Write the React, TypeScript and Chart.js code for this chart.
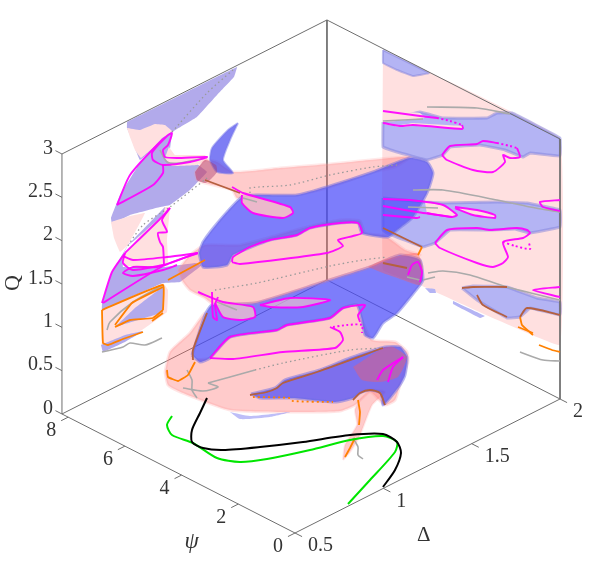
import React, { useEffect, useRef } from "react";
import { Chart, registerables } from "chart.js";
Chart.register(...registerables);

const psiTicks = [0, 2, 4, 6, 8];
const deltaTicks = [0.5, 1, 1.5, 2];
const qTicks = [0, 0.5, 1, 1.5, 2, 2.5, 3];
const qTickLabels = ["0", "0.5", "1", "1.5", "2", "2.5", "3"];
const deltaTickLabels = ["0.5", "1", "1.5", "2"];
const psiEnd = 8.22;

// ---- left wall (view plane coordinates) ----
const lwLavTop = [[127,122],[237,67],[234,77],[217,95],[197,117],[172,132],[163,140],[140,160],[130,135],[127,128]];
const lwPinkTop = [[127,128],[140,130],[155,124],[165,125],[172,131],[162,140],[141,158],[135,150],[130,137]];
const lwLavMid = [[162,138],[172,132],[170,150],[172,164],[197,164],[207,172],[190,190],[170,205],[160,207],[130,215],[112,224],[111,218],[120,195],[140,163]];
const lwPinkStrip = [[169,147],[175,155],[205,155],[208,160],[197,165],[172,166],[165,158]];
const lwPinkLowL = [[111,222],[130,216],[145,213],[128,245],[120,252],[114,238]];
const lwPinkLowR = [[165,207],[170,207],[167,240],[168,266],[125,266],[123,255],[128,251],[138,238]];
const lwLavSliver = [[128,245],[165,207],[163,215],[135,240]];
const lwLavLow = [[102,303],[112,272],[128,245],[123,255],[123,267],[165,267],[195,263],[202,265],[180,282],[163,283],[102,310]];
const lwPinkStub = [[102,310],[163,283],[168,290],[167,312],[142,330],[102,345]];
const lwLavStub = [[115,327],[135,308],[163,287],[163,312],[138,320]];
const lwLavFoot = [[101,345],[125,335],[143,331],[125,342],[103,352]];

// ---- right wall ----
const rwPink = [[383,50],[560,138],[560,345],[420,285],[383,270]];
const rwLavTop = [[383,50],[429,73],[413,76],[397,70],[383,63]];
const rwLavA = [[383,122],[420,112],[443,118],[487,118],[497,113],[512,113],[560,138],[560,156],[530,153],[523,157],[505,150],[480,145],[450,147],[443,155],[427,160],[397,152],[383,147]];
const rwPinkWedge = [[383,111],[420,113],[425,118],[383,122]];
const rwLensA = [[383,123],[400,125],[413,123],[462,126],[463,129],[413,126],[400,127],[383,124]];
const rwLavB = [[383,198],[423,202],[443,203],[497,202],[527,203],[560,210],[560,227],[530,233],[515,229],[490,230],[450,230],[435,243],[423,247],[387,233],[383,230]];
const rwLensB = [[425,202],[443,205],[457,215],[452,217],[427,213]];
const rwLensC = [[455,207],[477,210],[495,215],[495,218],[473,215],[455,208]];
const rwLavC = [[462,288],[473,286],[507,287],[537,298],[560,302],[560,315],[530,308],[520,317],[507,318],[490,308],[477,300]];
const rwLavSliverA = [[425,288],[435,289],[436,293],[430,293]];
const rwLavSliverB = [[453,301],[485,316],[480,318],[453,304]];

// ---- spiral surface ----
const pinkStalk = [[343,460],[350,452],[360,435],[372,405],[385,392],[372,390],[360,400],[355,410],[357,425],[345,445]];
const pinkLowBlob = [[165,372],[170,352],[190,333],[205,313],[192,358],[210,358],[230,337],[277,330],[287,325],[330,318],[343,308],[357,305],[362,320],[372,340],[395,342],[407,352],[408,362],[400,385],[395,400],[385,405],[370,392],[355,405],[340,411],[290,412],[230,410],[183,393],[168,385]];
const blueLow = [[251,394],[275,388],[285,380],[320,370],[350,358],[385,347],[400,347],[407,357],[405,375],[400,385],[390,398],[383,405],[381,393],[370,390],[360,393],[353,398],[335,402],[293,398],[260,398]];
const pinkOverLow = [[353,367],[362,380],[380,382],[398,377],[407,357],[393,347],[383,348]];
const blueLowStray = [[230,412],[250,416],[290,412],[270,417],[240,419]];
const blueMid = [[192,355],[205,315],[212,305],[255,303],[320,283],[370,267],[400,255],[420,260],[423,280],[420,285],[397,313],[383,323],[373,338],[365,335],[362,320],[357,305],[343,308],[330,318],[287,325],[277,330],[230,337],[210,358],[200,362]];
const pinkMid = [[178,270],[190,255],[205,245],[240,245],[303,228],[340,220],[360,221],[365,233],[385,236],[405,250],[420,255],[400,255],[370,267],[320,283],[255,303],[212,303],[205,298],[190,290],[182,280]];
const pinkOverMid = [[368,267],[383,260],[417,253],[423,267],[420,285],[403,280],[383,273]];
const pinkLoopMid = [[198,292],[223,302],[253,307],[255,317],[240,320],[223,317],[215,303]];
const pinkLensMid = [[260,305],[290,298],[328,300],[303,307],[270,307]];
const blueTop = [[199,253],[203,242],[220,220],[242,197],[257,195],[297,195],[330,186],[373,172],[410,158],[427,162],[433,173],[427,193],[413,217],[397,230],[388,237],[362,233],[358,223],[340,223],[310,228],[297,235],[270,240],[233,255],[227,265],[203,267]];
const pinkHoleTop = [[243,193],[290,207],[293,213],[283,218],[253,213],[242,203]];
const pinkTopBand = [[195,172],[205,160],[217,162],[233,172],[280,168],[330,164],[380,159],[410,157],[395,167],[373,172],[330,187],[297,195],[257,195],[237,198],[232,190],[205,183],[197,180]];
const purpleBlob = [[195,172],[205,160],[216,165],[217,172],[210,180],[205,183],[197,180]];
const blueCrescent = [[238,123],[228,130],[212,148],[210,160],[217,172],[233,173],[223,160],[230,140]];

// ---- curves ----
const blackCurve = [[207,398],[200,413],[192,430],[192,442],[203,448],[223,450],[260,447],[303,442],[350,435],[383,434],[397,442],[401,453],[395,470],[383,487]];
const greenCurve = [[172,416],[167,425],[172,435],[193,443],[217,458],[240,462],[267,459],[310,450],[350,440],[383,436],[397,442],[395,452],[370,480],[348,504]];

const magentaLines = [
  [[117,205],[130,175],[162,140],[172,133],[168,145],[163,150],[165,157],[177,158],[207,157],[190,162],[163,165],[153,160],[152,153],[160,143],[168,135]],
  [[117,205],[153,185],[163,173],[163,165]],
  [[170,208],[162,220],[167,232],[158,233],[160,242],[163,247],[164,265]],
  [[102,303],[112,272],[125,253]],
  [[125,253],[162,217],[170,208]],
  [[103,303],[163,266],[198,253]],
  [[198,253],[167,257],[133,260],[123,256]],
  [[125,253],[123,263],[133,270],[163,265]],
  [[197,253],[157,267],[133,267],[123,273],[133,276],[163,270],[177,265]],
  [[232,187],[243,193],[290,207],[293,213],[283,218],[253,213],[242,203],[242,195]],
  [[232,262],[233,257],[250,247],[270,240],[297,235],[310,228],[340,223],[358,223],[362,233],[353,236],[338,240],[343,246],[327,253],[240,264],[232,262]],
  [[198,292],[223,302],[253,307],[255,317],[240,320],[223,317],[215,303]],
  [[260,305],[290,298],[330,300],[303,307],[270,307],[260,305]],
  [[212,292],[213,317],[217,320],[215,305],[218,297]],
  [[210,358],[230,337],[277,330],[287,325],[330,318],[343,308],[365,305],[358,315],[360,322]],
  [[210,358],[233,359],[283,352],[335,348],[343,340],[340,332],[330,327]],
  [[377,380],[383,370],[403,357]],
  [[388,382],[393,367],[403,357]],
  [[408,275],[412,265],[418,262],[422,272],[420,282]],
  [[383,111],[420,116],[437,118]],
  [[383,123],[400,126],[413,125],[462,129],[463,128],[462,125]],
  [[442,155],[450,146],[477,144],[483,141],[497,143]],
  [[517,148],[520,157],[510,158],[503,155],[505,162],[493,172],[473,170],[447,160],[442,155]],
  [[383,199],[410,200],[443,205],[457,215],[452,217],[427,213]],
  [[383,206],[417,212],[452,217]],
  [[383,215],[417,218],[420,217]],
  [[455,207],[477,210],[495,215],[495,218],[473,215],[455,208]],
  [[560,200],[540,202],[543,207],[560,211]],
  [[435,243],[447,230],[477,228],[490,230],[517,228],[527,230],[530,233],[523,238],[503,242],[508,257],[503,263],[493,267],[477,263],[440,248],[435,243]],
  [[560,287],[533,290],[560,297]],
];
const magentaDots = [
  [[437,118],[450,121],[462,125]],
  [[497,143],[510,146],[517,148]],
  [[503,242],[515,246],[530,249],[529,243]],
  [[333,327],[347,325],[362,325],[362,333]],
];
const grayLines = [
  [[160,150],[167,162],[180,163],[205,158]],
  [[133,267],[157,267]],
  [[107,330],[110,322],[133,302],[163,285]],
  [[102,352],[123,347],[130,343],[145,345],[162,338]],
  [[383,121],[423,119]],
  [[427,107],[477,108],[510,114]],
  [[413,190],[443,190],[497,200],[530,207],[560,212]],
  [[408,207],[438,208]],
  [[428,273],[443,271],[470,275],[507,287],[560,300]],
  [[423,280],[435,277]],
  [[520,352],[543,360],[560,361]],
  [[353,438],[358,447],[358,455],[363,459]],
  [[183,388],[203,391],[218,387],[208,383]],
  [[187,370],[192,380],[192,390],[197,398]],
  [[208,383],[230,377],[255,370]],
  [[217,302],[237,310]],
  [[243,198],[257,202]],
  [[407,277],[420,280]],
];
const grayDots = [
  [[233,70],[207,93],[172,132]],
  [[207,178],[170,207],[143,225],[127,247]],
  [[250,193],[250,188],[290,185],[330,175],[373,167],[397,165]],
  [[215,290],[257,283],[330,266],[363,260],[387,257]],
  [[255,370],[283,363],[350,350],[383,348]],
];
const orangeLines = [
  [[195,362],[188,375],[178,381],[168,377],[167,370]],
  [[102,310],[163,285],[163,310]],
  [[102,310],[103,343],[108,345],[123,339],[143,332]],
  [[115,325],[132,303],[163,287]],
  [[115,327],[130,320],[153,318],[163,310]],
  [[152,321],[163,313]],
  [[168,280],[205,260]],
  [[345,457],[350,448],[355,438]],
  [[358,400],[360,412],[359,425]],
  [[520,317],[522,325],[533,335]],
  [[518,327],[533,333]],
  [[539,345],[552,350],[560,352]],
  [[418,255],[422,247]],
];
const brownLines = [
  [[193,360],[193,350],[207,313]],
  [[353,400],[360,393],[370,390],[380,393],[385,405]],
  [[250,395],[267,392],[277,388],[283,383],[317,372],[383,348]],
  [[383,228],[422,247]],
  [[462,288],[473,287],[507,287]],
  [[477,295],[483,305],[507,317]],
  [[520,317],[527,308],[560,315]],
  [[205,180],[240,193]],
  [[383,263],[407,268]],
];
const orangeDots = [
  [[253,397],[290,398],[293,401],[333,402]],
];

const PINK = "rgba(255,110,110,0.36)";
const BLUE = "rgba(75,75,250,0.72)";
const WPINK = "#ffe0e0";
const WLAV = "#b4b4f4";
const LLAV = "#b2aaeb";
const NONE = "rgba(0,0,0,0)";
const HALO = "rgba(130,130,220,.5)";

const fillLayers: [number[][], string, string, number][] = [
  [rwPink, WPINK, NONE, 0],
  [rwLavTop, WLAV, HALO, 2],
  [rwLavA, WLAV, HALO, 3],
  [rwPinkWedge, WPINK, NONE, 0],
  [rwLensA, WPINK, NONE, 0],
  [rwLavB, WLAV, HALO, 3],
  [rwLensB, WPINK, NONE, 0],
  [rwLensC, WPINK, NONE, 0],
  [rwLavC, WLAV, HALO, 3],
  [rwLavSliverA, WLAV, NONE, 0],
  [rwLavSliverB, WLAV, NONE, 0],
  [lwLavTop, LLAV, NONE, 0],
  [lwPinkTop, WPINK, NONE, 0],
  [lwLavMid, LLAV, NONE, 0],
  [lwPinkStrip, WPINK, NONE, 0],
  [lwPinkLowL, WPINK, NONE, 0],
  [lwPinkLowR, WPINK, NONE, 0],
  [lwLavSliver, LLAV, NONE, 0],
  [lwLavLow, LLAV, NONE, 0],
  [lwPinkStub, WPINK, NONE, 0],
  [lwLavStub, LLAV, NONE, 0],
  [lwLavFoot, LLAV, NONE, 0],
];
const surfaceLayers: [number[][], string, string, number][] = [
  [pinkStalk, PINK, "rgba(255,150,150,.2)", 2],
  [pinkLowBlob, PINK, "rgba(255,150,150,.25)", 3],
  [blueLowStray, "rgba(110,110,240,.45)", NONE, 0],
  [blueLow, BLUE, "rgba(110,110,230,.5)", 3],
  [pinkOverLow, "rgba(255,90,90,0.38)", NONE, 0],
  [blueMid, BLUE, "rgba(110,110,230,.5)", 3],
  [pinkMid, PINK, "rgba(255,150,150,.25)", 3],
  [pinkOverMid, "rgba(255,90,90,0.38)", NONE, 0],
  [pinkLoopMid, "rgba(255,200,200,.7)", NONE, 0],
  [pinkLensMid, "rgba(255,200,200,.6)", NONE, 0],
  [pinkTopBand, PINK, "rgba(255,150,150,.2)", 3],
  [blueTop, BLUE, "rgba(110,110,230,.5)", 3],
  [pinkHoleTop, "rgba(255,195,195,.85)", NONE, 0],
  [blueCrescent, "rgba(70,70,240,.7)", "rgba(120,120,235,.5)", 2],
  [purpleBlob, "rgba(170,60,110,.45)", NONE, 0],
];

// orthogonal projection of the 3-D axes box on the view plane
function project(psi: number, delta: number, q: number) {
  return {
    x: 295 - psi * 28.35 + ((delta - 0.5) / 1.5) * 265,
    y: 533 - psi * 14.48 - ((delta - 0.5) / 1.5) * 134 - (q / 3) * 260,
  };
}

export default function App() {
  const ref = useRef<HTMLCanvasElement>(null);
  useEffect(() => {
    const ds: any[] = [];
    const poly = (p: number[][], bg: string, bc: string, bw: number, tension: number) =>
      ds.push({
        data: [...p, p[0]].map(([x, y]) => ({ x, y })),
        showLine: true, pointRadius: 0, fill: "shape", backgroundColor: bg,
        borderColor: bc, borderWidth: bw, tension,
      });
    const line = (p: { x: number; y: number }[], c: string, w: number, dash: number[] = [], tension = 0.25) =>
      ds.push({
        data: p, showLine: true, pointRadius: 0, fill: false, borderColor: c,
        borderWidth: w, borderDash: dash, tension,
      });
    const xy = (p: number[][]) => p.map(([x, y]) => ({ x, y }));

    fillLayers.forEach((l) => poly(l[0], l[1], l[2], l[3], 0.05));
    // box edges
    const boxC = "#6e6e6e";
    const edges: number[][][] = [
      [[psiEnd, 0.5, 0], [psiEnd, 0.5, 3]], [[psiEnd, 0.5, 3], [psiEnd, 2, 3]], [[psiEnd, 2, 3], [0, 2, 3]],
      [[0, 2, 3], [0, 2, 0]], [[psiEnd, 2, 3], [psiEnd, 2, 0]], [[psiEnd, 0.5, 0], [psiEnd, 2, 0]],
      [[psiEnd, 2, 0], [0, 2, 0]], [[psiEnd, 0.5, 0], [0, 0.5, 0]], [[0, 0.5, 0], [0, 2, 0]],
    ];
    edges.forEach(([a, b]) => line([project(a[0], a[1], a[2]), project(b[0], b[1], b[2])], boxC, 1, [], 0));
    psiTicks.forEach((v) => line([project(v, 0.5, 0), project(v, 0.46, 0)], boxC, 1, [], 0));
    deltaTicks.forEach((v) => line([project(0, v, 0), project(-0.25, v, 0)], boxC, 1, [], 0));
    qTicks.forEach((v) => line([project(psiEnd, 0.5, v), project(psiEnd + 0.23, 0.5, v)], boxC, 1, [], 0));

    surfaceLayers.forEach((l) => poly(l[0], l[1], l[2], l[3], 0.18));
    grayDots.forEach((p) => line(xy(p), "#9a9a9a", 1.3, [1.5, 3]));
    grayLines.forEach((p) => line(xy(p), "#aaaaaa", 1.6));
    brownLines.forEach((p) => line(xy(p), "#b5603f", 1.8));
    orangeLines.forEach((p) => line(xy(p), "#ff8000", 1.8, [], 0.1));
    orangeDots.forEach((p) => line(xy(p), "#ff8000", 1.8, [2, 3]));
    magentaLines.forEach((p) => line(xy(p), "rgba(255,0,255,.93)", 1.9, [], 0.2));
    magentaDots.forEach((p) => line(xy(p), "#ff00ff", 1.9, [2, 2.5]));
    line(xy(greenCurve), "#00e600", 2);
    line(xy(blackCurve), "#000000", 2);

    const n = ds.length;
    ds.forEach((d, i) => { d.order = n - i; d.clip = false; });

    const labelsPlugin = {
      id: "boxLabels",
      afterDraw(chart: any) {
        const c = chart.ctx;
        const sx = chart.scales.x, sy = chart.scales.y;
        const put = (t: string, p: { x: number; y: number }, dx: number, dy: number, align: CanvasTextAlign = "center") => {
          c.textAlign = align;
          c.textBaseline = "middle";
          c.fillText(t, sx.getPixelForValue(p.x) + dx, sy.getPixelForValue(p.y) + dy);
        };
        c.save();
        c.fillStyle = "#333";
        c.font = '20px "Liberation Serif"';
        qTickLabels.forEach((t, i) => put(t, project(psiEnd, 0.5, qTicks[i]), -9, -5.5, "right"));
        psiTicks.forEach((v) => put(String(v), project(v, 0.5, 0), -17, 14));
        deltaTickLabels.forEach((t, i) => put(t, project(0, deltaTicks[i], 0), 13, 13, "left"));
        c.font = 'italic 23px "Liberation Serif"';
        put("\u03c8", project(2.2, 0.5, 0), -41, 41);
        c.font = '21px "Liberation Serif"';
        put("\u0394", project(0, 1.15, 0), 14, 61);
        c.translate(13, 283);
        c.rotate(-Math.PI / 2);
        c.font = '22px "Liberation Serif"';
        c.textAlign = "center";
        c.fillText("Q", 0, 0);
        c.restore();
      },
    };

    const chart = new Chart(ref.current!, {
      type: "scatter",
      data: { datasets: ds },
      plugins: [labelsPlugin],
      options: {
        animation: false,
        responsive: false,
        maintainAspectRatio: false,
        layout: { padding: 0 },
        plugins: { legend: { display: false }, tooltip: { enabled: false } },
        scales: {
          x: { type: "linear", min: 0, max: 598, display: false },
          y: { type: "linear", min: 0, max: 577, reverse: true, display: false },
        },
      } as any,
    });
    return () => chart.destroy();
  }, []);
  return (
    <canvas
      ref={ref}
      width={598}
      height={577}
      style={{ position: "absolute", left: 0, top: 0, display: "block" }}
    />
  );
}
